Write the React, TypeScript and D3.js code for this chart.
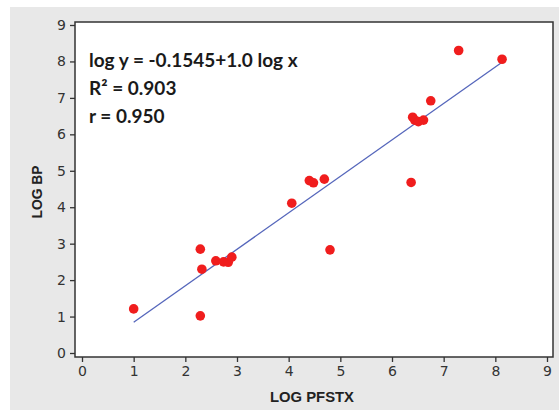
import { useEffect, useRef } from "react";
import * as d3 from "d3";

// LOG PFSTX vs LOG BP
const logPfstx = [1.0, 2.29, 2.32, 2.29, 2.59, 2.74, 2.83, 2.9, 4.06, 4.4, 4.48, 4.69, 4.8, 6.37, 6.4, 6.44, 6.51, 6.61, 6.75, 7.29, 8.13];
const logBp = [1.21, 2.85, 2.3, 1.02, 2.53, 2.5, 2.49, 2.63, 4.11, 4.73, 4.67, 4.77, 2.83, 4.68, 6.47, 6.39, 6.35, 6.39, 6.92, 8.3, 8.06];
const ticks = [0, 1, 2, 3, 4, 5, 6, 7, 8, 9];
const fitRange = [1.0, 8.13];
const intercept = -0.1545;
const slope = 1.0;
const statLines = ["log y = -0.1545+1.0 log x", "R\u00b2 = 0.903", "r = 0.950"];

export default function App() {
  const ref = useRef<SVGSVGElement>(null);

  useEffect(() => {
    const svg = d3.select(ref.current);
    svg.selectAll("*").remove();

    const W = 559;
    const frame = { left: 75, right: 553, top: 22, bottom: 357 };
    const labelFont = "'Liberation Sans Narrow', 'Liberation Sans', sans-serif";

    svg.append("rect").attr("x", 10).attr("y", 7).attr("width", W - 10).attr("height", 403).attr("fill", "#e8e8e8");

    const x = d3.scaleLinear().domain([0, 9]).range([82, 547]);
    const y = d3.scaleLinear().domain([0, 9]).range([353, 25]);

    svg.append("rect")
      .attr("x", frame.left).attr("y", frame.top)
      .attr("width", frame.right - frame.left).attr("height", frame.bottom - frame.top)
      .attr("fill", "#fff").attr("stroke", "#333").attr("stroke-width", 1.5);

    const xAxis = svg.append("g")
      .attr("transform", `translate(0,${frame.bottom})`)
      .call(d3.axisBottom(x).tickValues(ticks).tickSize(5).tickPadding(4).tickFormat(d3.format("d")));
    xAxis.select(".domain").remove();

    const yAxis = svg.append("g")
      .attr("transform", `translate(${frame.left},0)`)
      .call(d3.axisLeft(y).tickValues(ticks).tickSize(5).tickPadding(4).tickFormat(d3.format("d")));
    yAxis.select(".domain").remove();

    svg.selectAll(".tick line").attr("stroke", "#333").attr("stroke-width", 1.3);
    svg.selectAll(".tick text")
      .attr("fill", "#333")
      .attr("font-family", "DejaVu Sans")
      .attr("font-size", 14);

    svg.append("line")
      .attr("x1", x(fitRange[0])).attr("y1", y(intercept + slope * fitRange[0]))
      .attr("x2", x(fitRange[1])).attr("y2", y(intercept + slope * fitRange[1]))
      .attr("stroke", "#5566bb").attr("stroke-width", 1.3);

    svg.append("g")
      .selectAll("circle")
      .data(logPfstx.map((v, i) => [v, logBp[i]]))
      .join("circle")
      .attr("cx", d => x(d[0]))
      .attr("cy", d => y(d[1]))
      .attr("r", 4.8)
      .attr("fill", "#f01d1d");

    const stats = svg.append("g")
      .attr("font-family", "Lato, 'Open Sans', sans-serif")
      .attr("font-weight", "bold")
      .attr("font-size", 19)
      .attr("fill", "#1a1a1a");
    stats.selectAll("text")
      .data(statLines)
      .join("text")
      .attr("x", 89)
      .attr("y", (d, i) => 67 + i * 28)
      .text(d => d);

    svg.append("text")
      .attr("x", 312).attr("y", 402)
      .attr("text-anchor", "middle")
      .attr("font-family", labelFont)
      .attr("font-weight", "bold")
      .attr("font-size", 14)
      .attr("textLength", 84)
      .attr("lengthAdjust", "spacingAndGlyphs")
      .attr("fill", "#222")
      .text("LOG PFSTX");

    svg.append("text")
      .attr("transform", `translate(42,192) rotate(-90)`)
      .attr("text-anchor", "middle")
      .attr("font-family", labelFont)
      .attr("font-weight", "bold")
      .attr("font-size", 14)
      .attr("textLength", 53)
      .attr("lengthAdjust", "spacingAndGlyphs")
      .attr("fill", "#222")
      .text("LOG BP");
  }, []);

  return (
    <svg
      ref={ref}
      width={559}
      height={412}
      style={{ position: "absolute", left: 0, top: 0 }}
    />
  );
}
